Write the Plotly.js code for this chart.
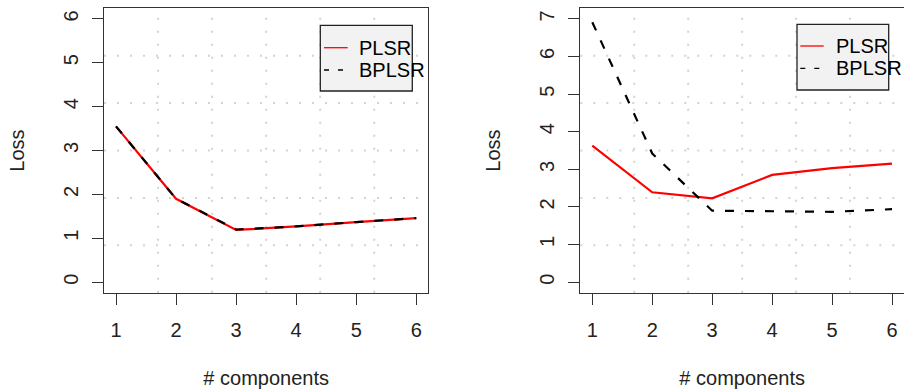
<!DOCTYPE html>
<html>
<head>
<meta charset="utf-8">
<script src="https://cdn.plot.ly/plotly-3.0.1.min.js"></script>
<style>html,body{margin:0;padding:0;background:#fff;}#chart{width:904px;height:392px;}</style>
</head>
<body>
<div id="chart"></div>
<script>
// ---- data ----
const components = [1, 2, 3, 4, 5, 6];
const xTickLabels = ['1', '2', '3', '4', '5', '6'];
const seriesNames = ['PLSR', 'BPLSR'];
// panel 1
const plsrLoss1  = [3.55, 1.90, 1.19, 1.27, 1.37, 1.46];
const bplsrLoss1 = [3.55, 1.90, 1.20, 1.27, 1.37, 1.46];
const yTicks1 = [0, 1, 2, 3, 4, 5, 6];
// panel 2
const plsrLoss2  = [3.63, 2.39, 2.23, 2.85, 3.03, 3.15];
const bplsrLoss2 = [6.91, 3.42, 1.90, 1.89, 1.87, 1.94];
const yTicks2 = [0, 1, 2, 3, 4, 5, 6, 7];

// ---- styling helpers ----
const W = 904, H = 392;
const px = v => v / W;
const py = v => 1 - v / H;
const FONT = 'Liberation Sans, Arial, sans-serif';
const TXT = '#222';
const FRAME = '#333';

// R-style 4% padded ranges
const pad = (lo, hi) => [lo - 0.04 * (hi - lo), hi + 0.04 * (hi - lo)];
const xRange = pad(Math.min(...components), Math.max(...components));
const yRange1 = pad(0, Math.max(...yTicks1));
const yRange2 = pad(0, Math.max(...yTicks2));

const traces = [
  {x: components, y: plsrLoss1, name: seriesNames[0], type: 'scatter', mode: 'lines',
   line: {color: '#ff0000', width: 2.2}, xaxis: 'x', yaxis: 'y', showlegend: false},
  {x: components, y: bplsrLoss1, name: seriesNames[1], type: 'scatter', mode: 'lines',
   line: {color: '#000000', width: 2.2, dash: '9px,11px'}, xaxis: 'x', yaxis: 'y', showlegend: false},
  {x: components, y: plsrLoss2, name: seriesNames[0], type: 'scatter', mode: 'lines',
   line: {color: '#ff0000', width: 2.2}, xaxis: 'x2', yaxis: 'y2', showlegend: false},
  {x: components, y: bplsrLoss2, name: seriesNames[1], type: 'scatter', mode: 'lines',
   line: {color: '#000000', width: 2.2, dash: '9px,11px'}, xaxis: 'x2', yaxis: 'y2', showlegend: false}
];

const yDom = [py(292.7), py(8.3)];
const baseX = (dom) => ({
  domain: dom, range: xRange, tickmode: 'array', tickvals: components, ticktext: xTickLabels,
  ticks: 'outside', ticklen: 11, tickwidth: 1, tickcolor: FRAME,
  showline: true, linecolor: FRAME, linewidth: 1, mirror: true,
  showgrid: false, zeroline: false, automargin: false,
  tickfont: {family: FONT, size: 20, color: TXT}, ticklabelstandoff: 8,
  title: {text: '# components', font: {family: FONT, size: 20, color: TXT}, standoff: 31}
});
const baseY = (range, ticks, anchor, mirror) => ({
  domain: yDom, range: range, anchor: anchor, tickmode: 'array', tickvals: ticks, ticktext: ticks.map(String),
  ticks: 'outside', ticklen: 11, tickwidth: 1, tickcolor: FRAME, tickangle: -90,
  showline: true, linecolor: FRAME, linewidth: 1, mirror: mirror,
  showgrid: false, zeroline: false, automargin: false,
  tickfont: {family: FONT, size: 20, color: TXT}, ticklabelstandoff: 6,
  title: {text: 'Loss', font: {family: FONT, size: 20, color: TXT}, standoff: 30}
});

// dotted grid (R grid(6, 6)): equally spaced lines across each padded range
const shapes = [];
function grid(xref, yref, xr, yr) {
  for (let k = 1; k < 6; k++) {
    const gx = xr[0] + k * (xr[1] - xr[0]) / 6;
    shapes.push({type: 'line', layer: 'below', xref: xref, yref: yref + ' domain', x0: gx, x1: gx, y0: 0, y1: 1,
      line: {color: '#d3d3d3', width: 2, dash: '2px,11px'}});
    const gy = yr[0] + k * (yr[1] - yr[0]) / 6;
    shapes.push({type: 'line', layer: 'below', xref: xref + ' domain', yref: yref, x0: 0, x1: 1, y0: gy, y1: gy,
      line: {color: '#d3d3d3', width: 2, dash: '2px,11px'}});
  }
}
grid('x', 'y', xRange, yRange1);
grid('x2', 'y2', xRange, yRange2);

// manual R-style legends
const annotations = [];
function legend(bx0, by0, bx1, by1, lineX0, lineX1, textX, rowY) {
  shapes.push({type: 'rect', xref: 'paper', yref: 'paper', x0: px(bx0), x1: px(bx1), y0: py(by1), y1: py(by0),
    fillcolor: '#f2f2f2', line: {color: '#222', width: 1.3}, layer: 'above'});
  const styles = [{color: '#ff0000', width: 1.3}, {color: '#000000', width: 1.3, dash: '5px,9px'}];
  seriesNames.forEach((nm, i) => {
    shapes.push({type: 'line', xref: 'paper', yref: 'paper', x0: px(lineX0), x1: px(lineX1),
      y0: py(rowY[i]), y1: py(rowY[i]), line: styles[i], layer: 'above'});
    annotations.push({xref: 'paper', yref: 'paper', x: px(textX), y: py(rowY[i]), xanchor: 'left', yanchor: 'middle',
      text: nm, showarrow: false, borderpad: 0, font: {family: FONT, size: 20, color: '#000'}});
  });
}
legend(320.3, 25.3, 412.3, 91, 324, 347.7, 358, [47.7, 70]);
legend(797, 24.3, 888.7, 90, 800.3, 823.7, 835, [46, 68.3]);

const layout = {
  width: W, height: H, margin: {l: 0, r: 0, t: 0, b: 0},
  paper_bgcolor: '#fff', plot_bgcolor: '#fff', showlegend: false,
  font: {family: FONT, color: TXT},
  xaxis: Object.assign(baseX([px(104), px(428.3)]), {anchor: 'y'}),
  yaxis: baseY(yRange1, yTicks1, 'x', true),
  xaxis2: Object.assign(baseX([px(580.3), 1]), {anchor: 'y2'}),
  yaxis2: baseY(yRange2, yTicks2, 'x2', false),
  shapes: shapes, annotations: annotations
};

Plotly.newPlot('chart', traces, layout, {displayModeBar: false, staticPlot: true});
</script>
</body>
</html>
